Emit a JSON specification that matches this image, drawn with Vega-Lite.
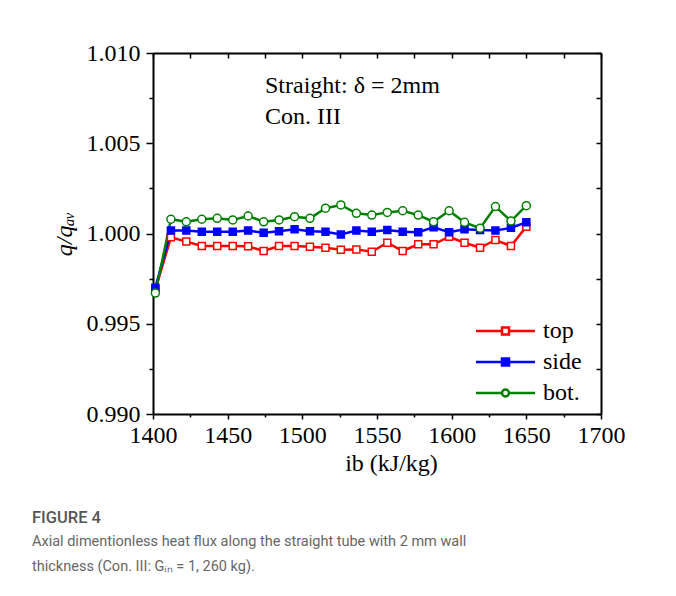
{
  "$schema": "https://vega.github.io/schema/vega-lite/v6.json",
  "width": 448,
  "height": 361,
  "autosize": {"type": "none"},
  "padding": {"left": 153, "top": 53, "right": 75, "bottom": 182},
  "background": "white",
  "config": {"view": {"stroke": null}, "font": "Liberation Serif"},
  "title": {
    "text": "FIGURE 4",
    "subtitle": ["Axial dimentionless heat flux along the straight tube with 2 mm wall", "thickness (Con. III: Gᵢₙ = 1, 260 kg)."],
    "orient": "bottom",
    "anchor": "start",
    "frame": "group",
    "dx": -121,
    "offset": 35,
    "font": "Roboto",
    "fontSize": 16.5,
    "fontWeight": 500,
    "color": "#555555",
    "subtitleFont": "Roboto",
    "subtitleFontSize": 14.5,
    "subtitleColor": "#666666",
    "subtitlePadding": 8,
    "subtitleLineHeight": 25
  },
  "datasets": {
    "d": [
      {"s": "top", "i": 1401.6, "q": 0.9969},
      {"s": "top", "i": 1412.0, "q": 0.99979},
      {"s": "top", "i": 1422.3, "q": 0.99955},
      {"s": "top", "i": 1432.7, "q": 0.99931},
      {"s": "top", "i": 1443.0, "q": 0.99931},
      {"s": "top", "i": 1453.4, "q": 0.99931},
      {"s": "top", "i": 1463.7, "q": 0.99929},
      {"s": "top", "i": 1474.1, "q": 0.99903},
      {"s": "top", "i": 1484.4, "q": 0.99931},
      {"s": "top", "i": 1494.8, "q": 0.99931},
      {"s": "top", "i": 1505.1, "q": 0.99927},
      {"s": "top", "i": 1515.5, "q": 0.99921},
      {"s": "top", "i": 1525.8, "q": 0.9991},
      {"s": "top", "i": 1536.2, "q": 0.99912},
      {"s": "top", "i": 1546.5, "q": 0.99899},
      {"s": "top", "i": 1556.9, "q": 0.99949},
      {"s": "top", "i": 1567.2, "q": 0.99903},
      {"s": "top", "i": 1577.6, "q": 0.9994},
      {"s": "top", "i": 1587.9, "q": 0.9994},
      {"s": "top", "i": 1598.3, "q": 0.99982},
      {"s": "top", "i": 1608.6, "q": 0.99949},
      {"s": "top", "i": 1619.0, "q": 0.99921},
      {"s": "top", "i": 1629.3, "q": 0.99964},
      {"s": "top", "i": 1639.7, "q": 0.99931},
      {"s": "top", "i": 1650.0, "q": 1.00038},
      {"s": "side", "i": 1401.6, "q": 0.997},
      {"s": "side", "i": 1412.0, "q": 1.00016},
      {"s": "side", "i": 1422.3, "q": 1.00016},
      {"s": "side", "i": 1432.7, "q": 1.0001},
      {"s": "side", "i": 1443.0, "q": 1.0001},
      {"s": "side", "i": 1453.4, "q": 1.0001},
      {"s": "side", "i": 1463.7, "q": 1.00016},
      {"s": "side", "i": 1474.1, "q": 1.00004},
      {"s": "side", "i": 1484.4, "q": 1.00013},
      {"s": "side", "i": 1494.8, "q": 1.00023},
      {"s": "side", "i": 1505.1, "q": 1.00013},
      {"s": "side", "i": 1515.5, "q": 1.0001},
      {"s": "side", "i": 1525.8, "q": 0.99994},
      {"s": "side", "i": 1536.2, "q": 1.00016},
      {"s": "side", "i": 1546.5, "q": 1.0001},
      {"s": "side", "i": 1556.9, "q": 1.00019},
      {"s": "side", "i": 1567.2, "q": 1.0001},
      {"s": "side", "i": 1577.6, "q": 1.00007},
      {"s": "side", "i": 1587.9, "q": 1.00034},
      {"s": "side", "i": 1598.3, "q": 1.00007},
      {"s": "side", "i": 1608.6, "q": 1.00023},
      {"s": "side", "i": 1619.0, "q": 1.00019},
      {"s": "side", "i": 1629.3, "q": 1.00016},
      {"s": "side", "i": 1639.7, "q": 1.00032},
      {"s": "side", "i": 1650.0, "q": 1.00062},
      {"s": "bot.", "i": 1401.6, "q": 0.9967},
      {"s": "bot.", "i": 1412.0, "q": 1.00079},
      {"s": "bot.", "i": 1422.3, "q": 1.00065},
      {"s": "bot.", "i": 1432.7, "q": 1.00079},
      {"s": "bot.", "i": 1443.0, "q": 1.00084},
      {"s": "bot.", "i": 1453.4, "q": 1.00075},
      {"s": "bot.", "i": 1463.7, "q": 1.00097},
      {"s": "bot.", "i": 1474.1, "q": 1.00065},
      {"s": "bot.", "i": 1484.4, "q": 1.00075},
      {"s": "bot.", "i": 1494.8, "q": 1.00093},
      {"s": "bot.", "i": 1505.1, "q": 1.00084},
      {"s": "bot.", "i": 1515.5, "q": 1.0014},
      {"s": "bot.", "i": 1525.8, "q": 1.00158},
      {"s": "bot.", "i": 1536.2, "q": 1.00112},
      {"s": "bot.", "i": 1546.5, "q": 1.00102},
      {"s": "bot.", "i": 1556.9, "q": 1.00117},
      {"s": "bot.", "i": 1567.2, "q": 1.00126},
      {"s": "bot.", "i": 1577.6, "q": 1.00102},
      {"s": "bot.", "i": 1587.9, "q": 1.00065},
      {"s": "bot.", "i": 1598.3, "q": 1.00126},
      {"s": "bot.", "i": 1608.6, "q": 1.00062},
      {"s": "bot.", "i": 1619.0, "q": 1.00029},
      {"s": "bot.", "i": 1629.3, "q": 1.00149},
      {"s": "bot.", "i": 1639.7, "q": 1.00069},
      {"s": "bot.", "i": 1650.0, "q": 1.00154}
    ]
  },
  "data": {"name": "d"},
  "layer": [
    {
      "mark": {"type": "line", "strokeWidth": 2.5},
      "encoding": {
        "x": {
          "field": "i", "type": "quantitative",
          "scale": {"domain": [1400, 1700], "nice": false, "zero": false},
          "axis": {
            "orient": "bottom", "values": [1400, 1450, 1500, 1550, 1600, 1650, 1700], "format": "d",
            "title": "ib (kJ/kg)", "titleX": 238, "grid": false,
            "tickSize": 5, "tickWidth": 1.5, "tickColor": "black",
            "domainColor": "black", "domainWidth": 2,
            "labelFont": "Liberation Serif", "labelFontSize": 24, "labelColor": "black", "labelPadding": 4,
            "labelFlush": false, "labelOverlap": false,
            "titleFont": "Liberation Serif", "titleFontSize": 24, "titleFontWeight": "normal", "titleColor": "black", "titlePadding": 4
          }
        },
        "y": {
          "field": "q", "type": "quantitative",
          "scale": {"domain": [0.99, 1.01], "nice": false, "zero": false},
          "axis": {
            "orient": "left", "values": [0.99, 0.995, 1.0, 1.005, 1.01], "format": ".3f",
            "title": "q/qₐᵥ", "grid": false,
            "tickSize": 7, "tickWidth": 1.5, "tickColor": "black",
            "domainColor": "black", "domainWidth": 2,
            "labelFont": "Liberation Serif", "labelFontSize": 24, "labelColor": "black", "labelPadding": 6,
            "labelFlush": false, "labelOverlap": false,
            "titleFont": "Liberation Serif", "titleFontSize": 24, "titleFontWeight": "normal", "titleFontStyle": "italic", "titleColor": "black", "titlePadding": 10
          }
        },
        "stroke": {
          "field": "s", "type": "nominal",
          "scale": {"domain": ["top", "side", "bot."], "range": ["#ff0000", "#0000ff", "#008000"]},
          "legend": {
            "title": null, "orient": "none", "legendX": 360, "legendY": 266, "padding": 0,
            "labelFont": "Liberation Serif", "labelFontSize": 24, "labelColor": "black", "labelOffset": 6,
            "rowPadding": 7, "symbolSize": 400, "symbolStrokeWidth": 2.5,
            "encode": {
              "symbols": {
                "update": {
                  "shape": {"signal": "datum.value === 'bot.' ? 'M-4.9,0H-2.3M-1.6,0H1M-1.6,0A0.35,0.35,0,1,1,-2.3,0A0.35,0.35,0,1,1,-1.6,0Z' : 'M-4.9,0H-2.3M-1.6,0H1M-2.3,-0.35H-1.6V0.35H-2.3Z'"},
                  "fill": {"signal": "datum.value === 'side' ? '#0000ff' : '#ffffff'"},
                  "size": {"value": 400},
                  "strokeWidth": {"value": 2.5},
                  "opacity": {"value": 1}
                }
              }
            }
          }
        }
      }
    },
    {
      "mark": {"type": "point", "strokeWidth": 1.5, "opacity": 1},
      "encoding": {
        "x": {
          "field": "i", "type": "quantitative",
          "axis": {
            "orient": "top", "values": [1400, 1425, 1450, 1475, 1500, 1525, 1550, 1575, 1600, 1625, 1650, 1675, 1700],
            "labels": false, "title": null, "grid": false,
            "tickSize": -5, "tickWidth": 1.5, "tickColor": "black",
            "domainColor": "black", "domainWidth": 2
          }
        },
        "y": {
          "field": "q", "type": "quantitative",
          "axis": {
            "orient": "right", "values": [0.99, 0.9925, 0.995, 0.9975, 1.0, 1.0025, 1.005, 1.0075, 1.01],
            "labels": false, "title": null, "grid": false,
            "tickSize": -5, "tickWidth": 1.5, "tickColor": "black",
            "domainColor": "black", "domainWidth": 2
          }
        },
        "stroke": {"field": "s", "type": "nominal"},
        "fill": {"condition": {"test": "datum.s === 'side'", "value": "#0000ff"}, "value": "#ffffff"},
        "shape": {"condition": {"test": "datum.s === 'bot.'", "value": "circle"}, "value": "square"},
        "size": {"condition": {"test": "datum.s === 'bot.'", "value": 64}, "value": 49}
      }
    },
    {
      "data": {"values": [{}]},
      "mark": {"type": "text", "align": "left", "baseline": "top", "font": "Liberation Serif", "fontSize": 24, "fill": "black", "lineHeight": 31},
      "encoding": {
        "x": {
          "datum": 1475, "type": "quantitative",
          "axis": {
            "orient": "bottom", "values": [1425, 1475, 1525, 1575, 1625, 1675],
            "labels": false, "title": null, "grid": false, "domain": false,
            "tickSize": 3, "tickWidth": 1.5, "tickColor": "black"
          }
        },
        "y": {
          "datum": 1.00884, "type": "quantitative",
          "axis": {
            "orient": "left", "values": [0.9925, 0.9975, 1.0025, 1.0075],
            "labels": false, "title": null, "grid": false, "domain": false,
            "tickSize": 4, "tickWidth": 1.5, "tickColor": "black"
          }
        },
        "text": {"value": ["Straight: δ = 2mm", "Con. III"]}
      }
    }
  ],
  "resolve": {"axis": {"x": "independent", "y": "independent"}}
}
